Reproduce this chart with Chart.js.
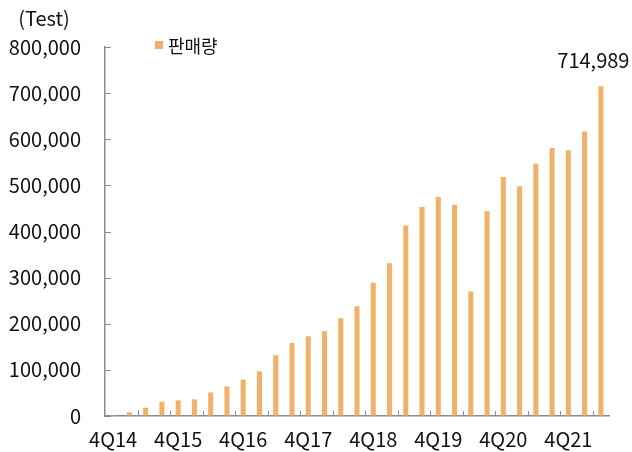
<!DOCTYPE html>
<html>
<head>
<meta charset="utf-8">
<script src="https://cdn.jsdelivr.net/npm/chart.js@4"></script>
<style>
  body { margin: 0; background: #fff; }
  canvas { display: block; }
</style>
</head>
<body>
<canvas id="myChart" width="632" height="452"></canvas>
<script>
const categories = ['4Q14', '1Q15', '2Q15', '3Q15', '4Q15', '1Q16', '2Q16', '3Q16', '4Q16',
    '1Q17', '2Q17', '3Q17', '4Q17', '1Q18', '2Q18', '3Q18', '4Q18', '1Q19', '2Q19', '3Q19', '4Q19',
    '1Q20', '2Q20', '3Q20', '4Q20', '1Q21', '2Q21', '3Q21', '4Q21', '1Q22', '2Q22'];
const sales = [2000, 8000, 18000, 31000, 34000, 36000, 51000, 64000, 79000,
    97000, 132000, 158000, 173000, 184000, 212000, 238000, 289000, 331000, 413000, 453000, 475000,
    458000, 270000, 444000, 518000, 498000, 547000, 581000, 576000, 617000, 714989];
const yTicks = [0, 100000, 200000, 300000, 400000, 500000, 600000, 700000, 800000];
const seriesName = '판매량';
const unitLabel = '(Test)';

const barColor = '#F1B168';
const axisColor = '#8C8C8C';
const font = "'Noto Sans CJK KR', 'Noto Sans', sans-serif";

// extra bits Excel draws: inside tick marks, unit text, legend, last value
const extras = {
    id: 'extras',
    afterDraw(chart) {
        const { ctx, chartArea, scales } = chart;
        const x = scales.x, y = scales.y;
        ctx.save();
        ctx.strokeStyle = axisColor;
        ctx.lineWidth = 1;
        ctx.beginPath();
        yTicks.forEach(v => {
            const py = Math.round(y.getPixelForValue(v)) + 0.5;
            ctx.moveTo(chartArea.left, py);
            ctx.lineTo(chartArea.left + 6, py);
        });
        for (let i = 2; i < categories.length; i += 2) {
            const px = Math.round((x.getPixelForValue(i - 1) + x.getPixelForValue(i)) / 2) + 0.5;
            ctx.moveTo(px, chartArea.bottom);
            ctx.lineTo(px, chartArea.bottom - 5);
        }
        ctx.stroke();

        ctx.fillStyle = '#111';
        ctx.font = '20px ' + font;
        ctx.textBaseline = 'middle';
        ctx.textAlign = 'center';
        ctx.fillText(unitLabel, 44, 18);

        // legend
        ctx.fillStyle = barColor;
        ctx.fillRect(155, 41, 8, 8);
        ctx.fillStyle = '#111';
        ctx.textAlign = 'left';
        ctx.font = '18px ' + font;
        ctx.fillText(seriesName, 168, 46);

        // last value label
        const meta = chart.getDatasetMeta(0);
        const last = meta.data[meta.data.length - 1];
        ctx.font = '20px ' + font;
        ctx.textAlign = 'center';
        ctx.fillText(sales[sales.length - 1].toLocaleString('en-US'), last.x - 7.5, last.y - 26);
        ctx.restore();
    }
};

new Chart(document.getElementById('myChart'), {
    type: 'bar',
    data: {
        labels: categories,
        datasets: [{
            label: seriesName,
            data: sales,
            backgroundColor: barColor,
            barPercentage: 0.31,
            categoryPercentage: 1
        }]
    },
    options: {
        responsive: false,
        animation: false,
        layout: { padding: { top: 47, right: 23, bottom: 0, left: 0 } },
        plugins: {
            legend: { display: false },
            tooltip: { enabled: false }
        },
        scales: {
            x: {
                grid: { display: false, drawTicks: false },
                border: { display: true, color: axisColor, width: 1.5 },
                afterFit: s => { s.height = 36; },
                ticks: {
                    autoSkip: false,
                    maxRotation: 0,
                    padding: 11,
                    color: '#111',
                    font: { family: font, size: 20 },
                    callback: (val, i) => i % 4 === 0 ? categories[i] : ''
                }
            },
            y: {
                min: 0,
                max: 800000,
                grid: { drawOnChartArea: false, drawTicks: false },
                border: { display: true, color: axisColor, width: 1.5 },
                afterFit: s => { s.width = 105; },
                afterBuildTicks: s => { s.ticks = yTicks.map(v => ({ value: v })); },
                ticks: {
                    padding: 24,
                    color: '#111',
                    font: { family: font, size: 20 },
                    callback: v => v.toLocaleString('en-US')
                }
            }
        }
    },
    plugins: [extras]
});
</script>
</body>
</html>
